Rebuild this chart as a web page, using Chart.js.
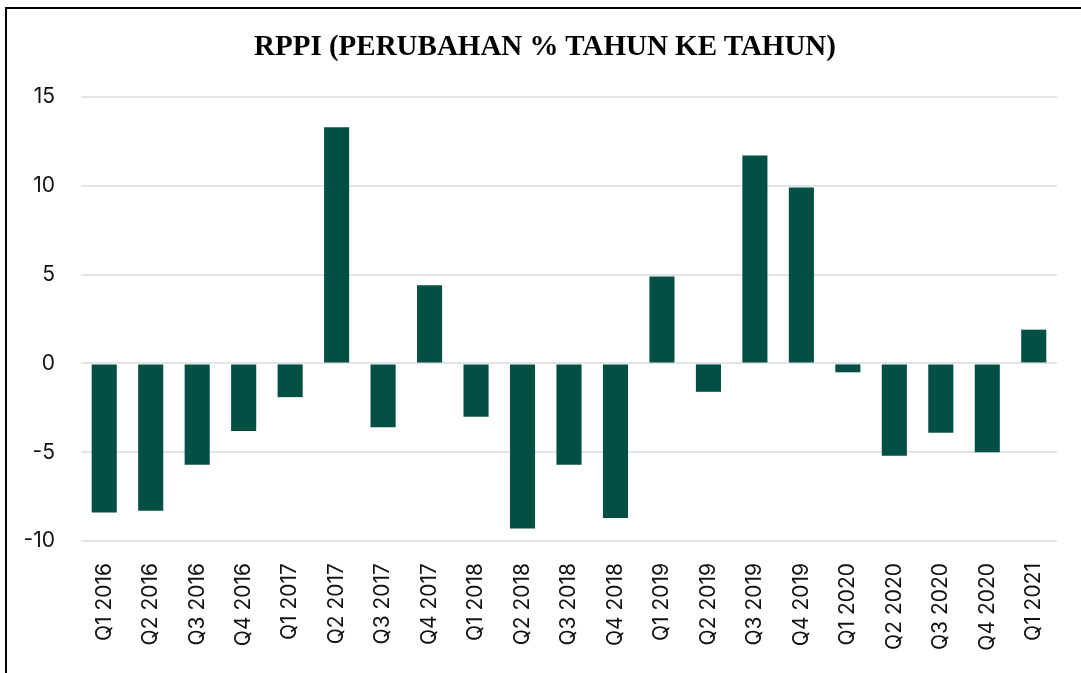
<!DOCTYPE html>
<html>
<head>
<meta charset="utf-8">
<script src="https://cdn.jsdelivr.net/npm/chart.js@4.4.1/dist/chart.umd.min.js"></script>
<style>
  html, body { margin: 0; padding: 0; background: #fff; }
  #wrap { position: relative; width: 1081px; height: 673px; overflow: hidden; }
  #frame { position: absolute; left: 5px; top: 7px; width: 1100px; height: 700px;
           border-top: 2px solid #000; border-left: 2px solid #000; pointer-events: none; }
  #judul { position: absolute; left: 0; top: 28px; width: 1090px; text-align: center;
           font-family: "Liberation Serif", serif; font-weight: bold; font-size: 29px;
           line-height: 34px; color: #000; white-space: nowrap; }
  canvas { position: absolute; left: 0; top: 0; }
</style>
</head>
<body>
<div id="wrap">
  <canvas id="rppiChart" width="1081" height="673"></canvas>
  <div id="judul"></div>
  <div id="frame"></div>
</div>
<script>
// Data kuartal
let kuartal = [
    "Q1 2016", "Q2 2016", "Q3 2016", "Q4 2016",
    "Q1 2017", "Q2 2017", "Q3 2017", "Q4 2017",
    "Q1 2018", "Q2 2018", "Q3 2018", "Q4 2018",
    "Q1 2019", "Q2 2019", "Q3 2019", "Q4 2019",
    "Q1 2020", "Q2 2020", "Q3 2020", "Q4 2020",
    "Q1 2021"
];

// Perubahan % tahun ke tahun
let perubahan = [
    -8.4, -8.3, -5.7, -3.8,
    -1.9, 13.3, -3.6, 4.4,
    -3.0, -9.3, -5.7, -8.7,
    4.9, -1.6, 11.7, 9.9,
    -0.5, -5.2, -3.9, -5.0,
    1.9
];

let sumbuY = [-10, -5, 0, 5, 10, 15];

let judul = "RPPI (PERUBAHAN % TAHUN KE TAHUN)";
document.getElementById("judul").textContent = judul;

let ctx = document.getElementById("rppiChart").getContext("2d");

let rppiChart = new Chart(ctx, {
    type: "bar",
    data: {
        labels: kuartal,
        datasets: [{
            label: "RPPI",
            data: perubahan,
            backgroundColor: "#024f43",
            borderWidth: 0,
            categoryPercentage: 1,
            barPercentage: 0.54
        }]
    },
    options: {
        responsive: false,
        animation: false,
        layout: {
            padding: { left: 0, right: 24, top: 97, bottom: 0 }
        },
        plugins: {
            legend: { display: false },
            tooltip: { enabled: false },
            title: { display: false }
        },
        scales: {
            x: {
                grid: { display: false },
                border: { display: false },
                ticks: {
                    color: "#111",
                    font: { family: "Inter", size: 21 },
                    maxRotation: 90,
                    minRotation: 90,
                    autoSkip: false,
                    padding: 14
                },
                afterFit: function (scale) { scale.height = 132; }
            },
            y: {
                min: -10,
                max: 15,
                afterBuildTicks: function (scale) {
                    scale.ticks = sumbuY.map(function (v) { return { value: v }; });
                },
                grid: { color: "#e0e5ea", lineWidth: 2, drawTicks: false },
                border: { display: false },
                ticks: {
                    color: "#111",
                    font: { family: "Inter", size: 21 },
                    padding: 26
                },
                afterFit: function (scale) { scale.width = 81; }
            }
        }
    }
});
</script>
</body>
</html>
